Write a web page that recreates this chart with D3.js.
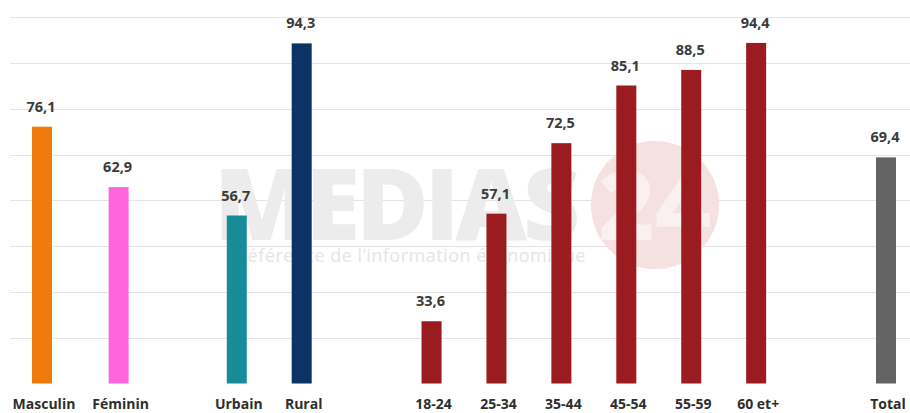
<!DOCTYPE html>
<html>
<head>
<meta charset="utf-8">
<script src="https://cdn.jsdelivr.net/npm/d3@7"></script>
<style>
  body { margin: 0; background: #fff; }
  svg text { font-family: "Open Sans", sans-serif; }
</style>
</head>
<body>
<div id="chart"></div>
<script>
var categories = ["Masculin", "Féminin", "Urbain", "Rural",
                  "18-24", "25-34", "35-44", "45-54", "55-59", "60 et+", "Total"];
var values = [76.1, 62.9, 56.7, 94.3, 33.6, 57.1, 72.5, 85.1, 88.5, 94.4, 69.4];
var colors = ["#ef7a0b", "#ff66de", "#178b97", "#0b3366",
              "#9a1b20", "#9a1b20", "#9a1b20", "#9a1b20", "#9a1b20", "#9a1b20", "#636363"];
var gridTicks = [30, 40, 50, 60, 70, 80, 90, 100];

// layout: slot of each category along the axis (gaps between the groups)
var slotIndex = [0, 1.18, 3, 4, 6, 7, 8, 9, 10, 11, 13];

var width = 910, height = 413;

var svg = d3.select("#chart").append("svg")
    .attr("width", width)
    .attr("height", height);

// set the ranges
var x = d3.scaleLinear().domain([0, 13]).range([42, 886]);
var y = d3.scaleLinear().domain([20, 100]).range([383.5, 17.3]);

// gridlines
svg.append("g").selectAll("line")
    .data(gridTicks)
  .enter().append("line")
    .attr("x1", 10)
    .attr("x2", width)
    .attr("y1", function(d) { return Math.round(y(d)) + 0.5; })
    .attr("y2", function(d) { return Math.round(y(d)) + 0.5; })
    .attr("stroke", "#e4e4e4")
    .attr("stroke-width", 1.2);

// watermark
var wm = svg.append("g").attr("class", "watermark");
wm.append("circle")
    .attr("cx", 655).attr("cy", 205).attr("r", 64)
    .attr("fill", "#f6e1e1");
wm.append("text")
    .attr("x", 655).attr("y", 240)
    .attr("text-anchor", "middle")
    .style("font-size", "96px").style("font-weight", 800)
    .attr("fill", "#fbf0f0")
    .text("24");
wm.append("text")
    .attr("x", 214).attr("y", 240)
    .style("font-size", "99px").style("font-weight", 800)
    .style("letter-spacing", "-4px")
    .attr("fill", "#ececec")
    .text("MEDIAS");
wm.append("text")
    .attr("x", 236).attr("y", 262)
    .style("font-size", "18px")
    .style("letter-spacing", "0.5px")
    .attr("fill", "#e6e6e6")
    .text("Référence de l’information économique");

var data = categories.map(function(c, i) {
  return { cat: c, value: values[i], color: colors[i], slot: slotIndex[i] };
});

var barW = 20;

// bars
svg.append("g").selectAll("rect")
    .data(data)
  .enter().append("rect")
    .attr("x", function(d) { return x(d.slot) - barW / 2; })
    .attr("y", function(d) { return y(d.value); })
    .attr("width", barW)
    .attr("height", function(d) { return y(20) - y(d.value); })
    .attr("fill", function(d) { return d.color; });

// value labels
svg.append("g").selectAll("text")
    .data(data)
  .enter().append("text")
    .attr("x", function(d) { return x(d.slot) - 1; })
    .attr("y", function(d) { return y(d.value) - 15; })
    .attr("text-anchor", "middle")
    .style("font-size", "14.5px")
    .style("font-weight", 700)
    .attr("fill", "#3b3b3b")
    .text(function(d) { return d3.format(".1f")(d.value).replace(".", ","); });

// category labels
svg.append("g").selectAll("text")
    .data(data)
  .enter().append("text")
    .attr("x", function(d) { return x(d.slot) + 2; })
    .attr("y", 409)
    .attr("text-anchor", "middle")
    .style("font-size", "14px")
    .style("font-weight", 700)
    .attr("fill", "#2e2e2e")
    .text(function(d) { return d.cat; });
</script>
</body>
</html>
